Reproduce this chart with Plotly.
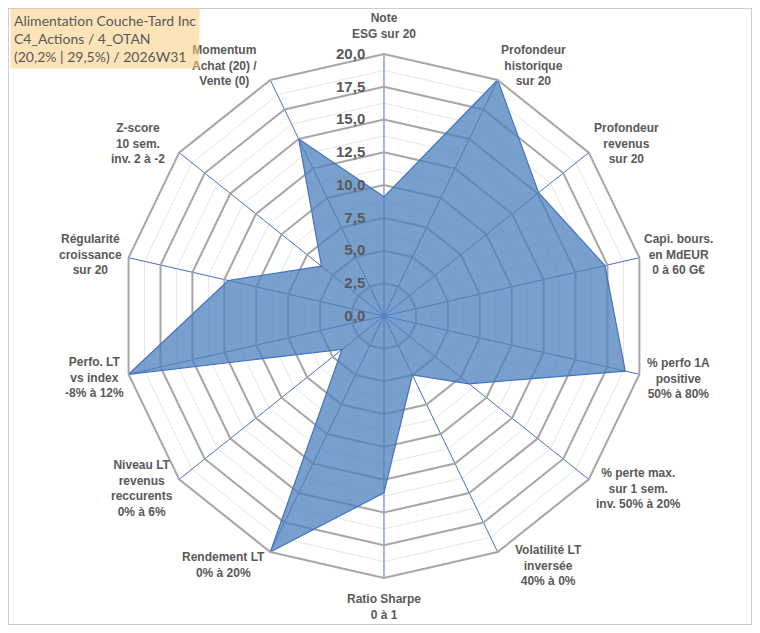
import plotly.graph_objects as go

# axes of the radar, clockwise from the top
categories = [
    "Note<br>ESG sur 20",
    "Profondeur<br>historique<br>sur 20",
    "Profondeur<br>revenus<br>sur 20",
    "Capi. bours.<br>en MdEUR<br>0 à 60 G€",
    "% perfo 1A<br>positive<br>50% à 80%",
    "% perte max.<br>sur 1 sem.<br>inv. 50% à 20%",
    "Volatilité LT<br>inversée<br>40% à 0%",
    "Ratio Sharpe<br>0 à 1",
    "Rendement LT<br>0% à 20%",
    "Niveau LT<br>revenus<br>reccurents<br>0% à 6%",
    "Perfo. LT<br>vs index<br>-8% à 12%",
    "Régularité<br>croissance<br>sur 20",
    "Z-score<br>10 sem.<br>inv. 2 à -2",
    "Momentum<br>Achat (20) /<br>Vente (0)",
]
scores = [9.1, 20, 15.1, 17.3, 18.9, 8.3, 5.0, 13.5, 20, 4.1, 20, 12.2, 6.1, 15.0]

major_ticks = [0, 2.5, 5, 7.5, 10, 12.5, 15, 17.5, 20]
minor_ticks = [1.25, 3.75, 6.25, 8.75, 11.25, 13.75, 16.25, 18.75]

title_lines = ["Alimentation Couche-Tard Inc", "C4_Actions / 4_OTAN", "(20,2% | 29,5%) / 2026W31"]

grey_txt = "#595959"
# page body has an 8px margin, so the figure is a bit smaller than the window
W, H = 744, 617
dom_x = [0.1532, 0.8575]
dom_y = [0.0762, 0.9254]

# where Excel put the category labels (label centres, figure pixels)
label_xy = [(376, None), (525, 58), (618, 135), (670, 246), (670, 370), (630, 480),
            (540, 557), (376, None), (215, 557), (134, 481), (86, 369), (82, 246),
            (130, 135), (216, 58)]

fig = go.Figure()

# faint minor rings on a polar underneath
fig.add_trace(go.Scatterpolar(r=[0] * len(categories), theta=categories, mode="none",
                              showlegend=False, hoverinfo="skip", subplot="polar"))

fig.add_trace(go.Scatterpolar(
    r=scores + scores[:1], theta=categories + categories[:1],
    mode="lines", fill="toself",
    fillcolor="rgba(79,129,189,0.76)",
    line=dict(color="#4472C4", width=1.2),
    showlegend=False, subplot="polar2",
))

common_ang = dict(rotation=90, direction="clockwise", categoryorder="array",
                  categoryarray=categories)

fig.update_layout(
    width=W, height=H,
    margin=dict(l=0, r=0, t=0, b=0),
    paper_bgcolor="white",
    separators=", ",
    font=dict(family="Liberation Sans, Arial", color=grey_txt),
    polar=dict(
        domain=dict(x=dom_x, y=dom_y),
        gridshape="linear",
        bgcolor="white",
        radialaxis=dict(range=[0, 20], tickvals=minor_ticks, showticklabels=False,
                        gridcolor="#E6E6E6", gridwidth=1, showline=False, ticks=""),
        angularaxis=dict(showticklabels=False, showgrid=False, showline=False, ticks="",
                         **common_ang),
    ),
    polar2=dict(
        domain=dict(x=dom_x, y=dom_y),
        gridshape="linear",
        bgcolor="rgba(0,0,0,0)",
        radialaxis=dict(range=[0, 20], tickvals=major_ticks, tickformat=".1f",
                        angle=90, tickangle=90, side="counterclockwise",
                        gridcolor="#A6A6A6", gridwidth=2, showline=False,
                        ticks="outside", ticklen=13, tickcolor="rgba(0,0,0,0)",
                        tickfont=dict(size=15, color=grey_txt, weight="bold",
                                      family="Liberation Sans, Arial")),
        angularaxis=dict(gridcolor="#4472C4", gridwidth=1, showline=True,
                         linecolor="#A6A6A6", linewidth=2, ticks="",
                         showticklabels=False, **common_ang),
    ),
    shapes=[dict(type="rect", xref="paper", yref="paper", x0=0, y0=0,
                 x1=1, y1=1, line=dict(color="#BFBFBF", width=1.5))],
)

lab_font = dict(size=12, color=grey_txt, weight="bold", family="Liberation Sans, Arial")
for i, (lab, (px, py)) in enumerate(zip(categories, label_xy)):
    if py is None:
        # top and bottom labels hug the edges of the figure
        top = i == 0
        fig.add_annotation(x=px / W, y=1.0 if top else 0.0, xref="paper", yref="paper",
                           xanchor="center", yanchor="top" if top else "bottom",
                           yshift=-1 if top else 1,
                           align="center", showarrow=False, text=lab, font=lab_font)
        continue
    fig.add_annotation(
        x=px / W, y=1 - py / H, xref="paper", yref="paper",
        xanchor="center", yanchor="middle", align="center", showarrow=False,
        text=lab, font=lab_font,
    )

# title box, slightly see-through like the original
fig.add_annotation(
    x=0.003, y=1.0, xref="paper", yref="paper", xanchor="left", yanchor="top",
    text="<br>".join(title_lines), align="left", showarrow=False,
    bgcolor="rgba(250,205,125,0.55)", borderpad=3,
    font=dict(family="Lato, Noto Sans", size=14, color=grey_txt),
)

fig.write_html("out.html")
